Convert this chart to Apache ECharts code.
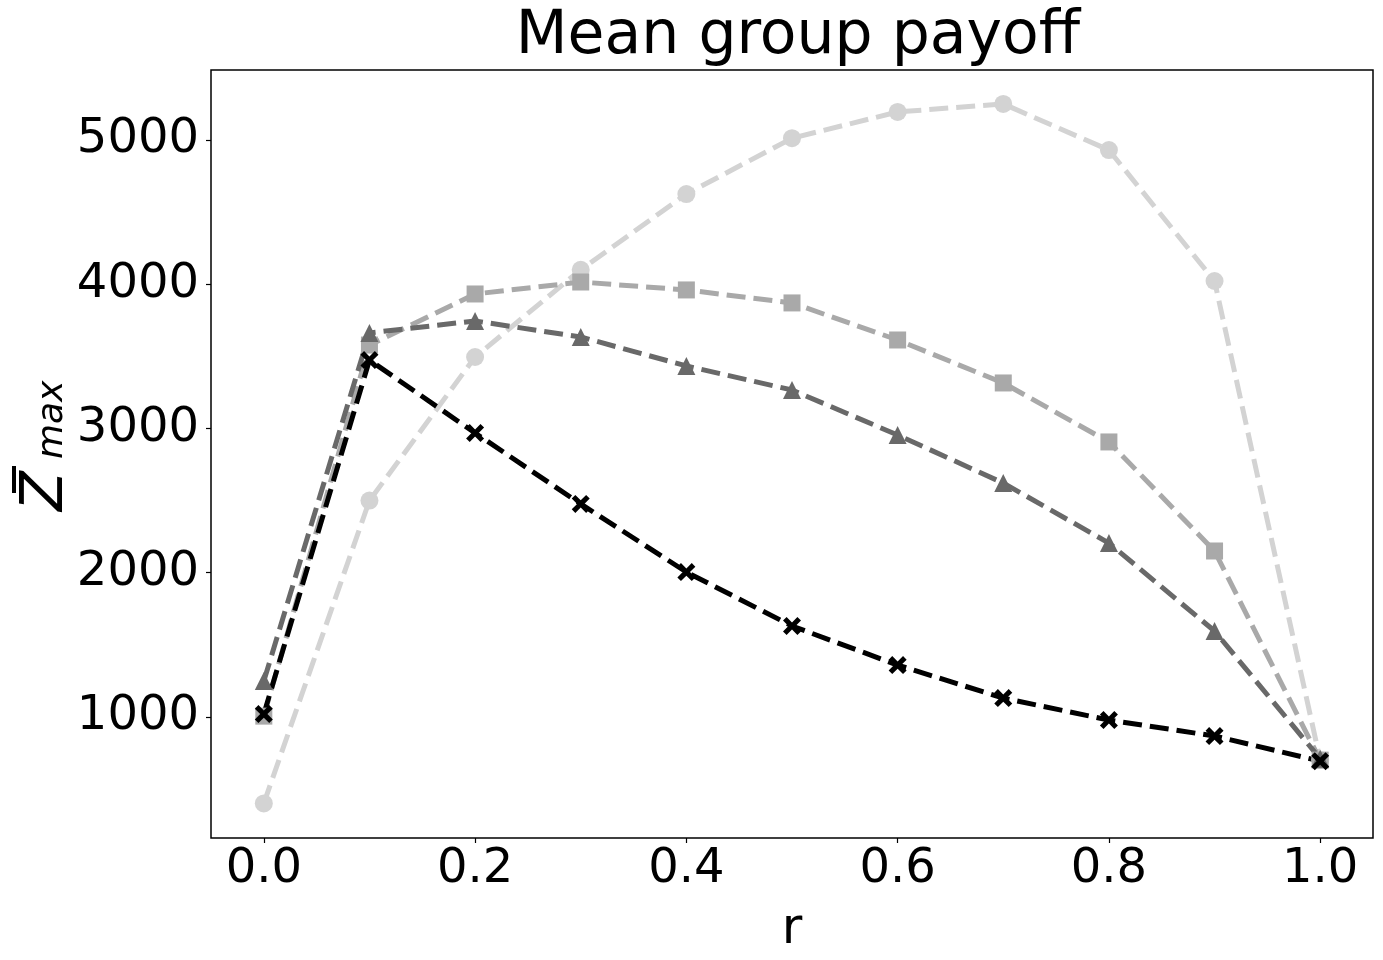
<!DOCTYPE html>
<html>
<head>
<meta charset="utf-8">
<script src="https://cdn.jsdelivr.net/npm/echarts@6/dist/echarts.min.js"></script>
<style>html,body{margin:0;padding:0;background:#fff;}#c{width:1383px;height:960px;}</style>
</head>
<body>
<div id="c"></div>
<script>
const rValues = [0.0, 0.1, 0.2, 0.3, 0.4, 0.5, 0.6, 0.7, 0.8, 0.9, 1.0];
const circleSeries = [400, 2500, 3495, 4100, 4625, 5012, 5194, 5250, 4930, 4022, 700];
const squareSeries = [1005, 3578, 3932, 4015, 3960, 3870, 3613, 3315, 2906, 2150, 700];
const triangleSeries = [1248, 3662, 3745, 3634, 3433, 3266, 2954, 2621, 2205, 1595, 710];
const crossSeries = [1019, 3474, 2968, 2476, 2004, 1630, 1359, 1130, 978, 867, 693];
const xTicks = [0.0, 0.2, 0.4, 0.6, 0.8, 1.0];
const yTicks = [1000, 2000, 3000, 4000, 5000];

const font = 'DejaVu Sans';
const xPath = 'path://M2,0 L5,3 L8,0 L10,2 L7,5 L10,8 L8,10 L5,7 L2,10 L0,8 L3,5 L0,2 Z';

function mk(name, vals, color, symbol, size) {
  return {
    name: name, type: 'line',
    data: rValues.map((r, i) => [r, vals[i]]),
    symbol: symbol, symbolSize: size, showSymbol: true,
    itemStyle: { color: color, borderWidth: 0 },
    lineStyle: { color: color, width: 5, type: [19, 8], cap: 'butt' },
    emphasis: { disabled: true },
    animation: false
  };
}

const chart = echarts.init(document.getElementById('c'), null, { renderer: 'canvas' });
chart.setOption({
  backgroundColor: '#fff',
  animation: false,
  title: {
    text: 'Mean group payoff', left: 793, top: 2, textAlign: 'center',
    textStyle: { fontFamily: font, fontSize: 60, fontWeight: 'normal', color: '#000' }
  },
  graphic: [{
    type: 'group', x: 0, y: 511, rotation: Math.PI / 2, silent: true,
    children: [
      { type: 'text', x: 0, y: 47, style: { text: 'Z', fill: '#000', font: 'italic 58px "DejaVu Sans"', align: 'left', verticalAlign: 'middle' } },
      { type: 'rect', shape: { x: 18, y: 12, width: 27, height: 4 }, style: { fill: '#000' } },
      { type: 'text', x: 52, y: 53, style: { text: 'max', fill: '#000', font: 'italic 36px "DejaVu Sans"', align: 'left', verticalAlign: 'middle' } }
    ]
  }],
  grid: { left: 211, right: 10, top: 70, bottom: 122, show: true, borderColor: '#000', borderWidth: 1.5,
    backgroundColor: 'transparent', containLabel: false, outerBoundsMode: 'none' },
  xAxis: {
    type: 'value', min: -0.05, max: 1.05,
    name: 'r', nameLocation: 'middle', nameGap: 67,
    nameTextStyle: { fontFamily: font, fontSize: 50, color: '#000' },
    axisLine: { show: false, onZero: false },
    axisTick: { show: true, customValues: xTicks, length: 5, lineStyle: { color: '#000', width: 1.2 } },
    axisLabel: { customValues: xTicks, fontFamily: font, fontSize: 48, color: '#000', margin: 8,
      formatter: v => Number(v).toFixed(1) },
    splitLine: { show: false }
  },
  yAxis: {
    type: 'value', min: 160, max: 5485,
    axisLine: { show: false, onZero: false },
    axisTick: { show: true, customValues: yTicks, length: 5, lineStyle: { color: '#000', width: 1.2 } },
    axisLabel: { customValues: yTicks, fontFamily: font, fontSize: 48, color: '#000', margin: 12,
      formatter: v => String(Math.round(v)) },
    splitLine: { show: false }
  },
  series: [
    mk('c', circleSeries, '#d3d3d3', 'circle', 18),
    mk('s', squareSeries, '#a9a9a9', 'rect', 17),
    mk('t', triangleSeries, '#696969', 'triangle', 18),
    mk('x', crossSeries, '#000000', xPath, 18)
  ]
});
</script>
</body>
</html>
